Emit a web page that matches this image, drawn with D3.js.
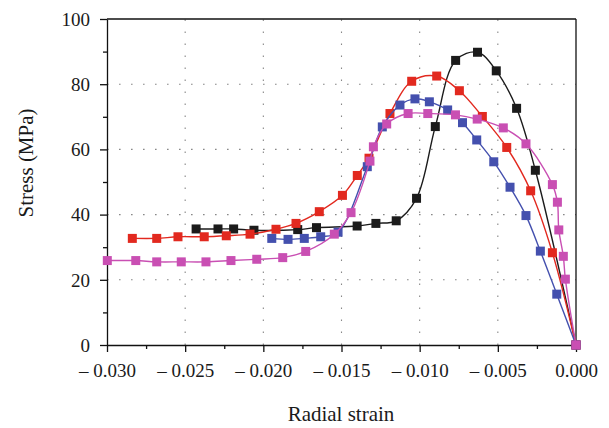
<!DOCTYPE html>
<html><head><meta charset="utf-8">
<script src="https://cdn.jsdelivr.net/npm/d3@7"></script>
<style>body{margin:0;background:#fff}svg{display:block}</style>
</head><body><svg id="c" width="609" height="428"></svg>
<script>
const blackX = [-0.0243,-0.0229,-0.0219,-0.0206,-0.0178,-0.0166,-0.0140,-0.0128,-0.0115,-0.0102,-0.0090,-0.0077,-0.0063,-0.0051,-0.0038,-0.0026,0];
const blackY = [35.6,35.6,35.6,35.2,35.4,36.0,36.5,37.3,38.1,45.0,67.0,87.3,89.8,84.1,72.6,53.6,0];
const redX = [-0.02838,-0.02682,-0.02546,-0.02378,-0.02237,-0.02085,-0.01919,-0.01791,-0.01642,-0.01494,-0.01399,-0.01324,-0.01190,-0.01051,-0.00891,-0.00746,-0.00599,-0.00443,-0.00290,-0.00151,0];
const redY = [32.7,32.7,33.2,33.2,33.5,34.0,35.5,37.3,40.9,45.9,52.0,57.3,71.0,80.9,82.5,78.0,70.1,60.6,47.3,28.3,0];
const blueX = [-0.01946,-0.01842,-0.01738,-0.01633,-0.01522,-0.01335,-0.01239,-0.01126,-0.01030,-0.00938,-0.00821,-0.00726,-0.00635,-0.00526,-0.00422,-0.00320,-0.00228,-0.00123,0];
const blueY = [32.7,32.4,32.7,33.2,34.6,54.7,66.9,73.6,75.5,74.6,72.1,68.2,62.9,56.2,48.4,39.7,28.8,15.6,0];
const magX = [-0.02998,-0.02816,-0.02682,-0.02525,-0.02367,-0.02207,-0.02042,-0.01876,-0.01729,-0.01546,-0.01439,-0.01318,-0.01296,-0.01211,-0.01074,-0.00948,-0.00771,-0.00632,-0.00465,-0.00320,-0.00151,-0.00119,-0.00110,-0.00081,-0.00068,0];
const magY = [25.9,25.9,25.5,25.5,25.5,25.9,26.3,26.8,28.7,34.0,40.6,56.4,60.8,67.8,71.0,71.0,70.6,69.3,66.6,61.7,49.2,43.8,35.3,27.2,20.2,0];
const xTicks = [-0.030,-0.025,-0.020,-0.015,-0.010,-0.005,0.000];
const xTickLabels = ["\u2013 0.030","\u2013 0.025","\u2013 0.020","\u2013 0.015","\u2013 0.010","\u2013 0.005","0.000"];
const yTicks = [0,20,40,60,80,100];
const xGrid = [-0.025,-0.020,-0.015,-0.010,-0.005];
const yGrid = [20,40,60,80];

const series = [
  {x: blackX, y: blackY, color: "#1b1b1b"},
  {x: redX, y: redY, color: "#e2291f"},
  {x: blueX, y: blueY, color: "#4450ae"},
  {x: magX, y: magY, color: "#c94fb3"}
];

const L = 107, R = 576, T = 19, B = 345;
const svg = d3.select("#c");
const x = d3.scaleLinear().domain([-0.030, 0]).range([L, R]);
const y = d3.scaleLinear().domain([0, 100]).range([B, T]);
const font = "'Liberation Serif','DejaVu Serif',serif";

// grid
const g = svg.append("g");
g.selectAll(".vg").data(xGrid).join("line")
  .attr("x1", d => x(d)).attr("x2", d => x(d)).attr("y1", B).attr("y2", T)
  .attr("stroke", "#888").attr("stroke-width", 1.1).attr("stroke-dasharray", "1.6,10.4");
g.selectAll(".hg").data(yGrid).join("line")
  .attr("x1", L).attr("x2", R).attr("y1", d => y(d)).attr("y2", d => y(d))
  .attr("stroke", "#888").attr("stroke-width", 1.1).attr("stroke-dasharray", "1.6,10.4");

// frame top/right
svg.append("line").attr("x1", L).attr("x2", R).attr("y1", T).attr("y2", T).attr("stroke", "#111").attr("stroke-width", 1.3);
svg.append("line").attr("x1", R).attr("x2", R).attr("y1", T).attr("y2", B).attr("stroke", "#111").attr("stroke-width", 1.3);

// axes
const xAxis = d3.axisBottom(x).tickValues(xTicks).tickSize(7).tickSizeOuter(0)
  .tickFormat((d, i) => xTickLabels[i]);
const xa = svg.append("g").attr("transform", `translate(0,${B})`).call(xAxis);
const xMinor = d3.axisBottom(x).tickValues(d3.range(-0.0275, 0, 0.005)).tickSize(4).tickFormat("").tickSizeOuter(0);
svg.append("g").attr("transform", `translate(0,${B})`).call(xMinor).select(".domain").remove();

const yAxis = d3.axisLeft(y).tickValues(yTicks).tickSize(7).tickSizeOuter(0);
const ya = svg.append("g").attr("transform", `translate(${L},0)`).call(yAxis);
const yMinor = d3.axisLeft(y).tickValues(d3.range(10, 100, 20)).tickSize(4).tickFormat("").tickSizeOuter(0);
svg.append("g").attr("transform", `translate(${L},0)`).call(yMinor).select(".domain").remove();

svg.selectAll(".domain, .tick line").attr("stroke", "#111").attr("stroke-width", 1.3);
xa.selectAll("text").attr("font-family", font).attr("font-size", 19).attr("fill", "#1a1a1a").attr("dy", "0").attr("y", 32);
ya.selectAll("text").attr("font-family", font).attr("font-size", 19).attr("fill", "#1a1a1a").attr("x", -17).attr("dy", "0.33em");

// titles
svg.append("text").attr("x", 341).attr("y", 421).attr("text-anchor", "middle")
  .attr("font-family", font).attr("font-size", 21).attr("fill", "#1a1a1a").text("Radial strain");
svg.append("text").attr("transform", `translate(33,163) rotate(-90)`).attr("text-anchor", "middle")
  .attr("font-family", font).attr("font-size", 21).attr("fill", "#1a1a1a").text("Stress (MPa)");

// series
const line = d3.line().x(d => x(d[0])).y(d => y(d[1])).curve(d3.curveCatmullRom.alpha(0.5));
const ms = 9;
series.forEach(s => {
  const pts = s.x.map((v, i) => [v, s.y[i]]);
  svg.append("path").datum(pts).attr("d", line).attr("fill", "none")
    .attr("stroke", s.color).attr("stroke-width", 1.4);
  svg.append("g").selectAll("rect").data(pts).join("rect")
    .attr("x", d => x(d[0]) - ms / 2).attr("y", d => y(d[1]) - ms / 2)
    .attr("width", ms).attr("height", ms).attr("fill", s.color);
});
</script></body></html>
